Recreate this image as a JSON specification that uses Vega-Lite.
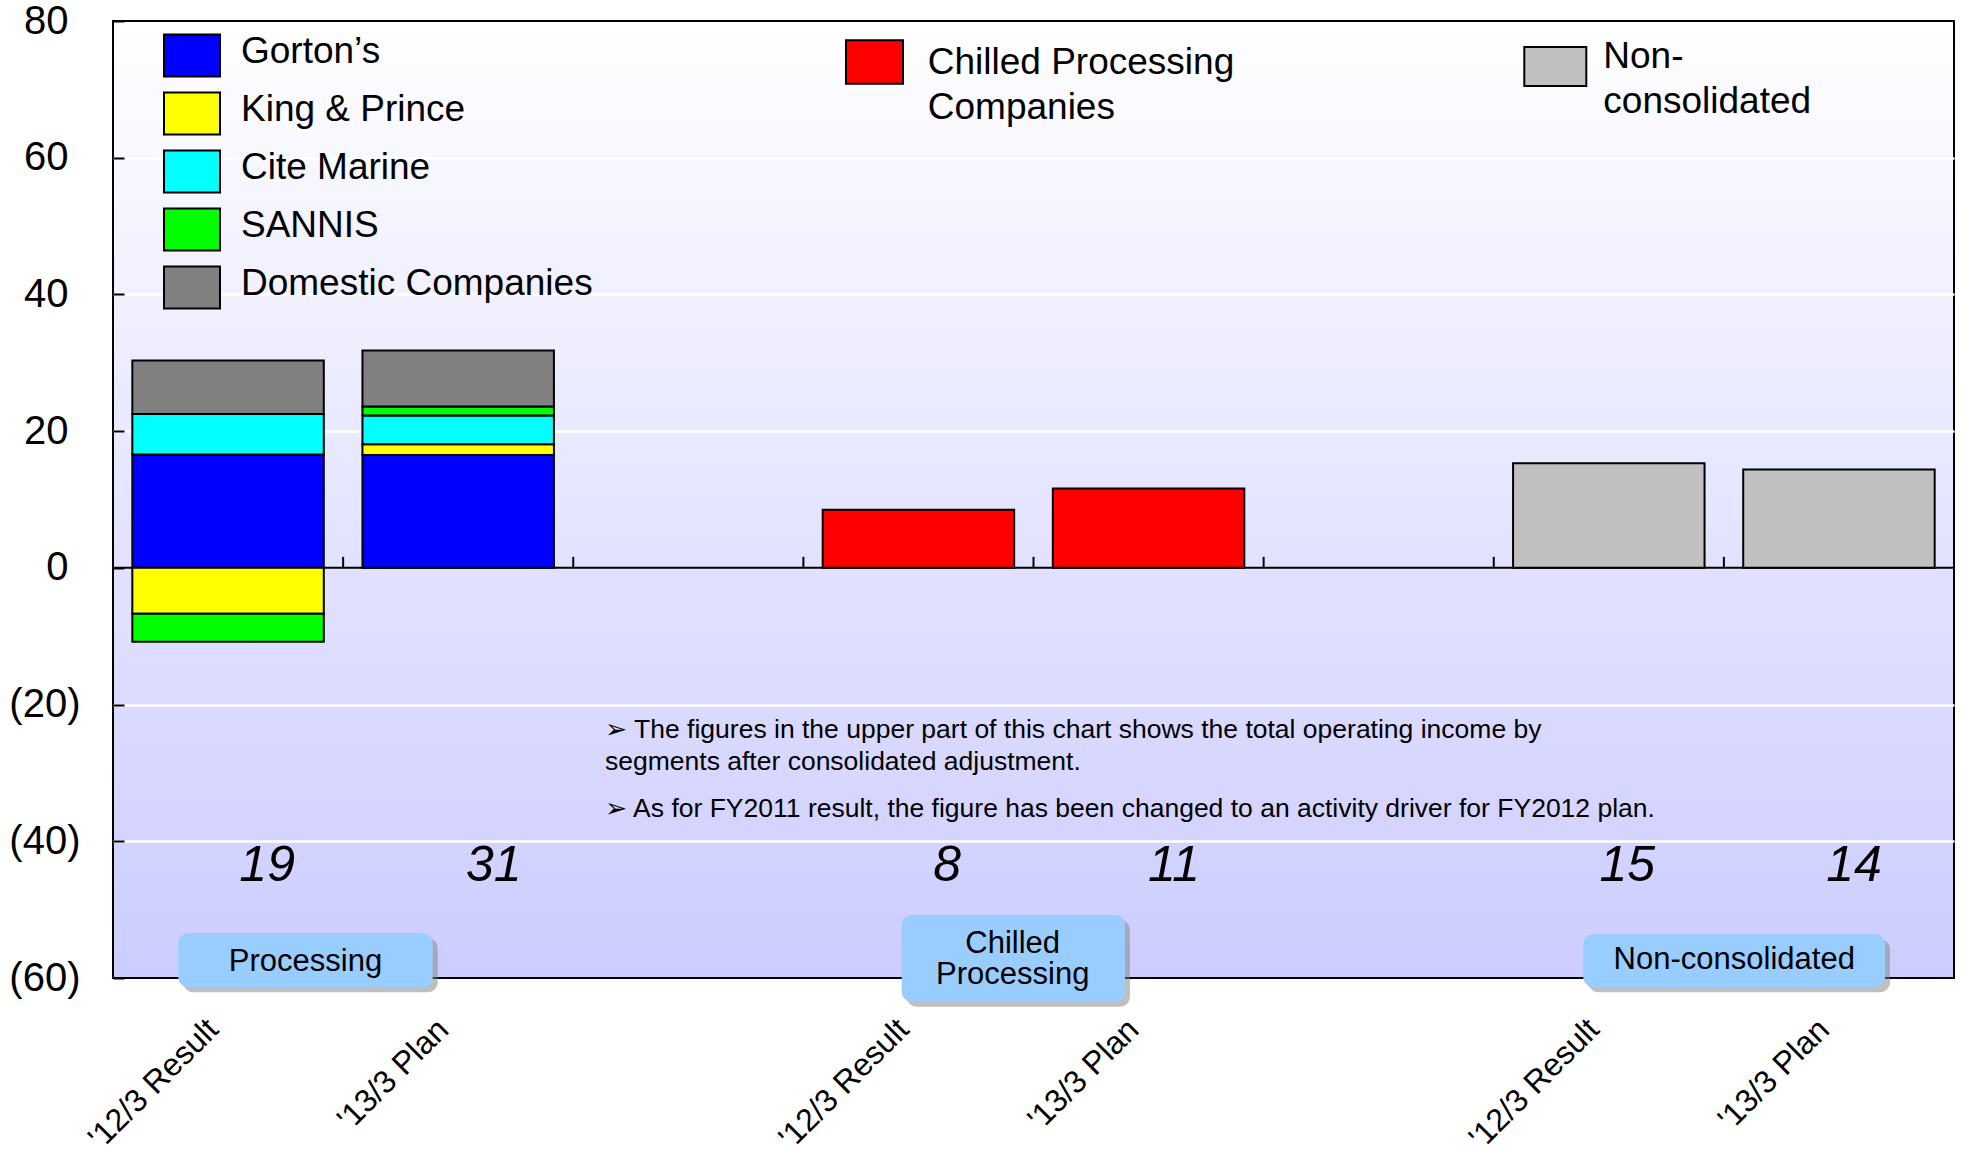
{
  "$schema": "https://vega.github.io/schema/vega-lite/v6.json",
  "width": 1841,
  "height": 957,
  "autosize": {"type": "none"},
  "padding": {"left": 113, "top": 21, "right": 12, "bottom": 174},
  "background": "#ffffff",
  "view": {
    "fill": {"gradient": "linear", "x1": 0, "y1": 0, "x2": 0, "y2": 1,
      "stops": [{"offset": 0, "color": "#ffffff"}, {"offset": 1, "color": "#ccccff"}]},
    "stroke": "#000000",
    "strokeWidth": 2
  },
  "config": {"font": "Liberation Sans", "style": {"guide-label": {"lineHeight": 45}}},
  "datasets": {
    "processing": [
      {"cat": "P1", "company": "Gorton’s", "rank": 1, "value": 16.6},
      {"cat": "P1", "company": "King & Prince", "rank": 2, "value": -6.7},
      {"cat": "P1", "company": "Cite Marine", "rank": 3, "value": 5.9},
      {"cat": "P1", "company": "SANNIS", "rank": 4, "value": -4.1},
      {"cat": "P1", "company": "Domestic Companies", "rank": 5, "value": 7.85},
      {"cat": "P2", "company": "Gorton’s", "rank": 1, "value": 16.5},
      {"cat": "P2", "company": "King & Prince", "rank": 2, "value": 1.6},
      {"cat": "P2", "company": "Cite Marine", "rank": 3, "value": 4.2},
      {"cat": "P2", "company": "SANNIS", "rank": 4, "value": 1.3},
      {"cat": "P2", "company": "Domestic Companies", "rank": 5, "value": 8.2}
    ],
    "chilled": [
      {"cat": "C1", "company": "Chilled Processing Companies", "value": 8.5},
      {"cat": "C2", "company": "Chilled Processing Companies", "value": 11.6}
    ],
    "noncons": [
      {"cat": "N1", "company": "Non-consolidated", "value": 15.3},
      {"cat": "N2", "company": "Non-consolidated", "value": 14.4}
    ],
    "totals": [
      {"cat": "P1", "total": 19},
      {"cat": "P2", "total": 31},
      {"cat": "C1", "total": 8},
      {"cat": "C2", "total": 11},
      {"cat": "N1", "total": 15},
      {"cat": "N2", "total": 14}
    ],
    "boundaries": [
      {"cat": "P2"}, {"cat": "G1"}, {"cat": "C1"}, {"cat": "C2"}, {"cat": "G2"}, {"cat": "N1"}, {"cat": "N2"}
    ],
    "notes": [
      {"id": 1, "text": ["➢ The figures in the upper part of this chart shows the total operating income by", "segments after consolidated adjustment."]},
      {"id": 2, "text": ["➢ As for FY2011 result, the figure has been changed to an activity driver for FY2012 plan."]}
    ],
    "groups": [
      {"id": "P", "label": "Processing"},
      {"id": "C", "label": ["Chilled", "Processing"]},
      {"id": "N", "label": "Non-consolidated"}
    ]
  },
  "resolve": {"scale": {"x": "independent", "fill": "independent"}, "axis": {"x": "independent", "y": "independent"}},
  "layer": [
    {
      "data": {"values": [{}]},
      "mark": {"type": "rule", "color": "#000000", "strokeWidth": 2},
      "encoding": {
        "y": {"datum": 0, "type": "quantitative", "scale": {"domain": [-60, 80], "nice": false, "zero": false}, "axis": null}
      }
    },
    {
      "data": {"name": "boundaries"},
      "mark": {"type": "rule", "color": "#000000", "strokeWidth": 2},
      "encoding": {
        "x": {"field": "cat", "type": "nominal", "bandPosition": 0,
          "scale": {"domain": ["P1", "P2", "G1", "C1", "C2", "G2", "N1", "N2"], "paddingInner": 0, "paddingOuter": 0},
          "axis": null},
        "y": {"datum": 0, "type": "quantitative", "scale": {"domain": [-60, 80], "nice": false, "zero": false}, "axis": null},
        "y2": {"datum": 1.61}
      }
    },
    {
      "data": {"name": "processing"},
      "mark": {"type": "bar", "width": {"band": 0.832}, "stroke": "#000000", "strokeWidth": 2},
      "encoding": {
        "x": {"field": "cat", "type": "nominal",
          "scale": {"domain": ["P1", "P2", "G1", "C1", "C2", "G2", "N1", "N2"], "paddingInner": 0, "paddingOuter": 0},
          "axis": {"orient": "bottom", "title": null, "domain": false, "ticks": false, "grid": false,
            "labelAngle": -45, "labelAlign": "right", "labelBaseline": "middle", "labelPadding": 46, "labelOffset": -15,
            "labelFontSize": 32, "labelFont": "Liberation Sans", "labelColor": "#000000",
            "labelOverlap": false, "labelBound": false, "labelFlush": false, "labelLimit": 0,
            "labelExpr": "indexof(['P1','C1','N1'], datum.value) >= 0 ? \"'12/3 Result\" : (indexof(['P2','C2','N2'], datum.value) >= 0 ? \"'13/3 Plan\" : '')"}},
        "y": {"field": "value", "type": "quantitative", "stack": "zero",
          "scale": {"domain": [-60, 80], "nice": false, "zero": false},
          "axis": {"title": null, "orient": "left", "values": [-60, -40, -20, 0, 20, 40, 60, 80],
            "grid": true, "gridColor": {"condition": {"test": "datum.value == 80 || datum.value == -60 || datum.value == 0", "value": "transparent"}, "value": "#ffffff"},
            "gridWidth": 2.5, "gridOpacity": 1,
            "domain": false, "ticks": false,
            "labelFontSize": 40, "labelFont": "Liberation Sans", "labelColor": "#000000",
            "labelPadding": {"condition": {"test": "datum.value >= 0", "value": 45}, "value": 33},
            "labelAlign": "right", "labelBaseline": "middle", "labelOverlap": false, "labelFlush": false,
            "labelExpr": "datum.value < 0 ? '(' + abs(datum.value) + ')' : '' + datum.value"}},
        "fill": {"field": "company", "type": "nominal",
          "scale": {"domain": ["Gorton’s", "King & Prince", "Cite Marine", "SANNIS", "Domestic Companies"],
            "range": ["#0000ff", "#ffff00", "#00ffff", "#00ff00", "#808080"]},
          "legend": {"title": null, "orient": "none", "legendX": 50, "legendY": 2.4, "direction": "vertical", "padding": 0,
            "symbolType": "M-1,-0.64H1V0.86H-1Z", "symbolSize": 3136, "symbolStrokeColor": "#000000", "symbolStrokeWidth": 2, "symbolOpacity": 1,
            "labelFontSize": 37, "labelFont": "Liberation Sans", "labelColor": "#000000", "labelOffset": 20, "labelLimit": 0,
            "labelBaseline": "middle", "rowPadding": 0}},
        "order": {"field": "rank", "type": "quantitative"}
      }
    },
    {
      "data": {"name": "chilled"},
      "mark": {"type": "bar", "width": {"band": 0.832}, "stroke": "#000000", "strokeWidth": 2},
      "encoding": {
        "x": {"field": "cat", "type": "nominal",
          "scale": {"domain": ["P1", "P2", "G1", "C1", "C2", "G2", "N1", "N2"], "paddingInner": 0, "paddingOuter": 0},
          "axis": null},
        "y": {"field": "value", "type": "quantitative", "scale": {"domain": [-60, 80], "nice": false, "zero": false}, "axis": null},
        "fill": {"field": "company", "type": "nominal",
          "scale": {"domain": ["Chilled Processing Companies"], "range": ["#ff0000"]},
          "legend": {"title": null, "orient": "none", "legendX": 732, "legendY": 23.2, "direction": "vertical", "padding": 0,
            "symbolType": "M-1,-1.175H1V0.355H-1Z", "symbolSize": 3249, "symbolStrokeColor": "#000000", "symbolStrokeWidth": 2, "symbolOpacity": 1,
            "labelFontSize": 37, "labelFont": "Liberation Sans", "labelColor": "#000000", "labelOffset": 23.8, "labelLimit": 0,
            "labelBaseline": "alphabetic",
            "labelExpr": "datum.label == 'Chilled Processing Companies' ? ['Chilled Processing', 'Companies'] : datum.label"}}
      }
    },
    {
      "data": {"name": "noncons"},
      "mark": {"type": "bar", "width": {"band": 0.832}, "stroke": "#000000", "strokeWidth": 2},
      "encoding": {
        "x": {"field": "cat", "type": "nominal",
          "scale": {"domain": ["P1", "P2", "G1", "C1", "C2", "G2", "N1", "N2"], "paddingInner": 0, "paddingOuter": 0},
          "axis": null},
        "y": {"field": "value", "type": "quantitative", "scale": {"domain": [-60, 80], "nice": false, "zero": false}, "axis": null},
        "fill": {"field": "company", "type": "nominal",
          "scale": {"domain": ["Non-consolidated"], "range": ["#c0c0c0"]},
          "legend": {"title": null, "orient": "none", "legendX": 1410.3, "legendY": 14.7, "direction": "vertical", "padding": 0,
            "symbolType": "M-1,-0.667H1V0.591H-1Z", "symbolSize": 3844, "symbolStrokeColor": "#000000", "symbolStrokeWidth": 2, "symbolOpacity": 1,
            "labelFontSize": 37, "labelFont": "Liberation Sans", "labelColor": "#000000", "labelOffset": 16, "labelLimit": 0,
            "labelBaseline": "alphabetic",
            "labelExpr": "datum.label == 'Non-consolidated' ? ['Non-', 'consolidated'] : datum.label"}}
      }
    },
    {
      "data": {"name": "totals"},
      "mark": {"type": "text", "font": "Liberation Sans Narrow, Liberation Sans", "fontStyle": "italic", "fontSize": 50,
        "align": "center", "baseline": "middle", "color": "#000000"},
      "encoding": {
        "x": {"field": "cat", "type": "nominal",
          "scale": {"domain": ["P1", "P2", "G1", "C1", "C2", "G2", "N1", "N2"], "range": [40.8, 1854.4], "paddingInner": 0, "paddingOuter": 0},
          "axis": null},
        "y": {"datum": -43.6, "type": "quantitative", "scale": {"domain": [-60, 80], "nice": false, "zero": false},
          "axis": {"orient": "left", "offset": -11, "values": [-60, -40, -20, 0, 20, 40, 60, 80], "title": null,
            "labels": false, "domain": false, "grid": false, "ticks": true, "tickSize": 11, "tickColor": "#000000", "tickWidth": 2}},
        "text": {"field": "total", "type": "quantitative"}
      }
    },
    {
      "layer": [
        {
          "data": {"name": "notes"},
          "transform": [{"filter": "datum.id == 1"}],
          "mark": {"type": "text", "align": "left", "baseline": "alphabetic", "fontSize": 26.5, "font": "Liberation Sans, DejaVu Sans", "lineHeight": 31.3, "color": "#000000"},
          "encoding": {
            "x": {"datum": 2.138, "type": "quantitative", "scale": {"domain": [0, 8], "nice": false, "zero": false}, "axis": null},
            "y": {"datum": -24.96, "type": "quantitative", "scale": {"domain": [-60, 80], "nice": false, "zero": false}, "axis": null},
            "text": {"field": "text", "type": "nominal"}
          }
        },
        {
          "data": {"name": "notes"},
          "transform": [{"filter": "datum.id == 2"}],
          "mark": {"type": "text", "align": "left", "baseline": "alphabetic", "fontSize": 26.5, "font": "Liberation Sans, DejaVu Sans", "lineHeight": 31.3, "color": "#000000"},
          "encoding": {
            "x": {"datum": 2.138, "type": "quantitative", "axis": null},
            "y": {"datum": -36.51, "type": "quantitative", "scale": {"domain": [-60, 80], "nice": false, "zero": false}, "axis": null},
            "text": {"field": "text", "type": "nominal"}
          }
        },
        {
          "data": {"name": "groups"},
          "transform": [{"filter": "datum.id == 'P'"}],
          "mark": {"type": "rect", "fill": "#808080", "opacity": 0.5, "cornerRadius": 10},
          "encoding": {
            "x": {"datum": 0.3055, "type": "quantitative", "axis": null}, "x2": {"datum": 1.411},
            "y": {"datum": -54.18, "type": "quantitative", "scale": {"domain": [-60, 80], "nice": false, "zero": false}, "axis": null}, "y2": {"datum": -62.08}
          }
        },
        {
          "data": {"name": "groups"},
          "transform": [{"filter": "datum.id == 'C'"}],
          "mark": {"type": "rect", "fill": "#808080", "opacity": 0.5, "cornerRadius": 10},
          "encoding": {
            "x": {"datum": 3.449, "type": "quantitative", "axis": null}, "x2": {"datum": 4.419},
            "y": {"datum": -51.51, "type": "quantitative", "scale": {"domain": [-60, 80], "nice": false, "zero": false}, "axis": null}, "y2": {"datum": -64.19}
          }
        },
        {
          "data": {"name": "groups"},
          "transform": [{"filter": "datum.id == 'N'"}],
          "mark": {"type": "rect", "fill": "#808080", "opacity": 0.5, "cornerRadius": 10},
          "encoding": {
            "x": {"datum": 6.4108, "type": "quantitative", "axis": null}, "x2": {"datum": 7.7219},
            "y": {"datum": -54.33, "type": "quantitative", "scale": {"domain": [-60, 80], "nice": false, "zero": false}, "axis": null}, "y2": {"datum": -62.08}
          }
        },
        {
          "data": {"name": "groups"},
          "transform": [{"filter": "datum.id == 'P'"}],
          "mark": {"type": "rect", "fill": "#99ccff", "cornerRadius": 10},
          "encoding": {
            "x": {"datum": 0.2838, "type": "quantitative", "axis": null}, "x2": {"datum": 1.3893},
            "y": {"datum": -53.45, "type": "quantitative", "scale": {"domain": [-60, 80], "nice": false, "zero": false}, "axis": null}, "y2": {"datum": -61.35}
          }
        },
        {
          "data": {"name": "groups"},
          "transform": [{"filter": "datum.id == 'C'"}],
          "mark": {"type": "rect", "fill": "#99ccff", "cornerRadius": 10},
          "encoding": {
            "x": {"datum": 3.4273, "type": "quantitative", "axis": null}, "x2": {"datum": 4.3975},
            "y": {"datum": -50.78, "type": "quantitative", "scale": {"domain": [-60, 80], "nice": false, "zero": false}, "axis": null}, "y2": {"datum": -63.46}
          }
        },
        {
          "data": {"name": "groups"},
          "transform": [{"filter": "datum.id == 'N'"}],
          "mark": {"type": "rect", "fill": "#99ccff", "cornerRadius": 10},
          "encoding": {
            "x": {"datum": 6.3891, "type": "quantitative", "axis": null}, "x2": {"datum": 7.7002},
            "y": {"datum": -53.6, "type": "quantitative", "scale": {"domain": [-60, 80], "nice": false, "zero": false}, "axis": null}, "y2": {"datum": -61.35}
          }
        },
        {
          "data": {"name": "groups"},
          "transform": [{"filter": "datum.id == 'P'"}],
          "mark": {"type": "text", "align": "center", "baseline": "alphabetic", "fontSize": 31, "font": "Liberation Sans", "color": "#000000"},
          "encoding": {
            "x": {"datum": 0.8366, "type": "quantitative", "axis": null},
            "y": {"datum": -58.92, "type": "quantitative", "scale": {"domain": [-60, 80], "nice": false, "zero": false}, "axis": null},
            "text": {"field": "label", "type": "nominal"}
          }
        },
        {
          "data": {"name": "groups"},
          "transform": [{"filter": "datum.id == 'C'"}],
          "mark": {"type": "text", "align": "center", "baseline": "alphabetic", "fontSize": 31, "font": "Liberation Sans", "lineHeight": 31.6, "color": "#000000"},
          "encoding": {
            "x": {"datum": 3.9096, "type": "quantitative", "axis": null},
            "y": {"datum": -56.28, "type": "quantitative", "scale": {"domain": [-60, 80], "nice": false, "zero": false}, "axis": null},
            "text": {"field": "label", "type": "nominal"}
          }
        },
        {
          "data": {"name": "groups"},
          "transform": [{"filter": "datum.id == 'N'"}],
          "mark": {"type": "text", "align": "center", "baseline": "alphabetic", "fontSize": 31, "font": "Liberation Sans", "color": "#000000"},
          "encoding": {
            "x": {"datum": 7.045, "type": "quantitative", "axis": null},
            "y": {"datum": -58.72, "type": "quantitative", "scale": {"domain": [-60, 80], "nice": false, "zero": false}, "axis": null},
            "text": {"field": "label", "type": "nominal"}
          }
        }
      ]
    }
  ]
}
